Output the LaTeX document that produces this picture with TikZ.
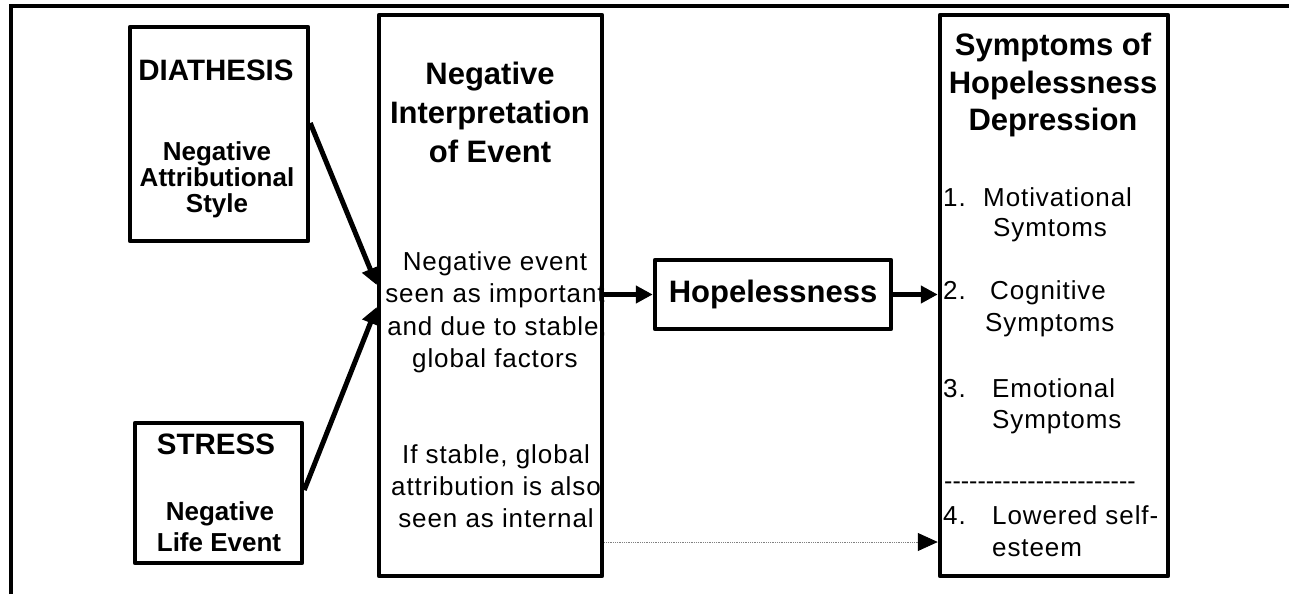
\documentclass[tikz,border=0pt]{standalone}
\usepackage{fontspec}
\setmainfont{Liberation Sans}
\newfontfamily\spacedfont[LetterSpace=3.5]{Liberation Sans}
\usetikzlibrary{arrows.meta}

\newcommand\dashrow{\foreach \i in {1,...,23}{\mbox{-}}}

\tikzset{
  box/.style={draw, line width=4.5pt, line join=round, inner sep=0},
  head/.style={font=\fontsize{29.5}{35}\selectfont\bfseries, anchor=base, inner sep=0},
  title/.style={font=\fontsize{31}{37}\selectfont\bfseries, anchor=base, inner sep=0},
  sub/.style={font=\fontsize{26}{31}\selectfont\bfseries, anchor=base, inner sep=0},
  txt/.style={font=\fontsize{26}{31}\spacedfont, anchor=base, inner sep=0},
  item/.style={txt, anchor=base west},
  link/.style={line width=5pt, -{Triangle[length=17pt,width=17pt]}},
}

\begin{document}
\begin{tikzpicture}[x=1pt, y=-1pt]
    \useasboundingbox (0,0) rectangle (1289,594);
    \draw[line width=4pt] (11,594) -- (11,6) -- (1289,6);

    \node[box, minimum width=178pt, minimum height=214pt] (diath) at (219,134) {};
    \node[box, minimum width=167pt, minimum height=140pt] (stress) at (218.5,493) {};
    \node[box, minimum width=223pt, minimum height=561pt] (interp) at (490.5,295.5) {};
    \node[box, minimum width=236pt, minimum height=69pt,
          font=\fontsize{31}{37}\selectfont\bfseries] (hope) at (773,294.5) {Hopelessness};
    \node[box, minimum width=228pt, minimum height=561pt] (sympt) at (1054,295.5) {};

    \node[head] (diathT) at (216,80) {DIATHESIS};
    \node[sub] (diathA) at (217,160) {Negative};
    \node[sub] (diathB) at (217,186) {Attributional};
    \node[sub] (diathC) at (217,212) {Style};

    \node[head] (stressT) at (216,454) {STRESS};
    \node[sub] (stressA) at (220,520) {Negative};
    \node[sub] (stressB) at (219,551) {Life Event};

    \node[title] (interpA) at (490,84) {Negative};
    \node[title] (interpB) at (490,123) {Interpretation};
    \node[title] (interpC) at (490,162) {of Event};
    \node[txt] (evA) at (495,270) {Negative event};
    \node[txt] (evB) at (495,302) {seen as important};
    \node[txt] (evC) at (497,335) {and due to stable,};
    \node[txt] (evD) at (495,367) {global factors};
    \node[txt] (intA) at (496,463) {If stable, global};
    \node[txt] (intB) at (496,495) {attribution is also};
    \node[txt] (intC) at (496,527) {seen as internal};

    \node[title] (symA) at (1053,56) {Symptoms of};
    \node[title] (symB) at (1053,93) {Hopelessness};
    \node[title] (symC) at (1053,130) {Depression};
    \node[item] (n1) at (943,206) {1.};
    \node[item] (s1a) at (983,206) {Motivational};
    \node[item] (s1b) at (993,236) {Symtoms};
    \node[item] (n2) at (943,299) {2.};
    \node[item] (s2a) at (990,299) {Cognitive};
    \node[item] (s2b) at (985,331) {Symptoms};
    \node[item] (n3) at (943,397) {3.};
    \node[item] (s3a) at (992,397) {Emotional};
    \node[item] (s3b) at (992,428) {Symptoms};
    \node[item, font=\fontsize{25}{31}\selectfont] (rule) at (944,489) {\dashrow};
    \node[item] (n4) at (943,524) {4.};
    \node[item] (s4a) at (992,524) {Lowered self-};
    \node[item] (s4b) at (992,556) {esteem};

    \draw[link] ([yshift=11pt]diath.east) -- ([yshift=10.5pt]interp.west);
    \draw[link] ([yshift=3pt]stress.east) -- ([yshift=-11.5pt]interp.west);
    \draw[link] (interp.east |- hope.west) -- (hope.west);
    \draw[link] (hope.east) -- (sympt.west |- hope.east);
    \draw[gray, line width=0.8pt, densely dotted, -{Triangle[length=20pt,width=18pt,black]}]
        ([yshift=-246.5pt]interp.east) -- ([yshift=-246.5pt]sympt.west);
\end{tikzpicture}
\end{document}
